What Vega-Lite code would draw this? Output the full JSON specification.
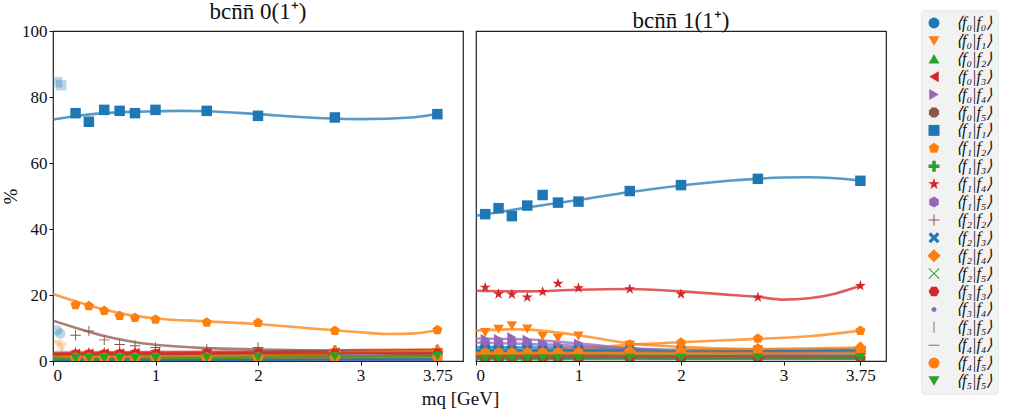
{
"$schema": "https://vega.github.io/schema/vega-lite/v6.json",
"background": "white",
"padding": {"left": 0, "top": 0, "right": 0, "bottom": 4},
"bounds": "flush",
"config": {
 "font": "Liberation Serif",
 "view": {"stroke": "#222", "strokeWidth": 1.2},
 "axis": {"domain": false, "grid": false, "labelFont": "Liberation Serif", "labelFontSize": 17, "labelColor": "#111", "tickColor": "#111", "tickSize": 4, "labelPadding": 2, "titleFont": "Liberation Serif", "titleFontSize": 19, "titleFontWeight": "normal", "titleColor": "#111"},
 "title": {"font": "Liberation Serif", "fontSize": 23, "fontWeight": "normal", "color": "#111", "offset": -2, "frame": "group"},
 "legend": {"orient": "none", "legendX": 868, "legendY": -21, "fillColor": "#f2f2f2", "strokeColor": "#e8e8e8", "cornerRadius": 4, "padding": 5, "titlePadding": 0, "labelFont": "Liberation Serif", "labelFontSize": 16, "labelColor": "#111", "labelFontStyle": "italic", "labelBaseline": "middle", "symbolSize": 120, "rowPadding": 1.9, "labelOffset": 14, "symbolStrokeWidth": 0, "symbolOpacity": 1},
 "concat": {"spacing": 13}
},
"datasets": {
 "pts": [
{"p":0,"s":"00","x":0.22,"y":1.2},{"p":0,"s":"00","x":0.35,"y":1.2},{"p":0,"s":"00","x":0.5,"y":1.3},{"p":0,"s":"00","x":0.65,"y":1.3},{"p":0,"s":"00","x":0.8,"y":1.4},{"p":0,"s":"00","x":1,"y":1.5},{"p":0,"s":"00","x":1.5,"y":1.7},{"p":0,"s":"00","x":2,"y":1.9},{"p":0,"s":"00","x":2.75,"y":2.2},{"p":0,"s":"00","x":3.75,"y":2.4},
{"p":0,"s":"01","x":0.22,"y":1.8},{"p":0,"s":"01","x":0.35,"y":1.8},{"p":0,"s":"01","x":0.5,"y":1.8},{"p":0,"s":"01","x":0.65,"y":1.8},{"p":0,"s":"01","x":0.8,"y":1.8},{"p":0,"s":"01","x":1,"y":1.8},{"p":0,"s":"01","x":1.5,"y":1.7},{"p":0,"s":"01","x":2,"y":1.6},{"p":0,"s":"01","x":2.75,"y":1.5},{"p":0,"s":"01","x":3.75,"y":1.3},
{"p":0,"s":"02","x":0.22,"y":0.6},{"p":0,"s":"02","x":0.35,"y":0.6},{"p":0,"s":"02","x":0.5,"y":0.7},{"p":0,"s":"02","x":0.65,"y":0.7},{"p":0,"s":"02","x":0.8,"y":0.8},{"p":0,"s":"02","x":1,"y":0.9},{"p":0,"s":"02","x":1.5,"y":1.2},{"p":0,"s":"02","x":2,"y":1.6},{"p":0,"s":"02","x":2.75,"y":2.5},{"p":0,"s":"02","x":3.75,"y":3.2},
{"p":0,"s":"03","x":0.22,"y":2.2},{"p":0,"s":"03","x":0.35,"y":2.2},{"p":0,"s":"03","x":0.5,"y":2.3},{"p":0,"s":"03","x":0.65,"y":2.3},{"p":0,"s":"03","x":0.8,"y":2.4},{"p":0,"s":"03","x":1,"y":2.4},{"p":0,"s":"03","x":1.5,"y":2.5},{"p":0,"s":"03","x":2,"y":2.5},{"p":0,"s":"03","x":2.75,"y":2.6},{"p":0,"s":"03","x":3.75,"y":2.5},
{"p":0,"s":"04","x":0.22,"y":0.5},{"p":0,"s":"04","x":0.35,"y":0.5},{"p":0,"s":"04","x":0.5,"y":0.5},{"p":0,"s":"04","x":0.65,"y":0.6},{"p":0,"s":"04","x":0.8,"y":0.6},{"p":0,"s":"04","x":1,"y":0.6},{"p":0,"s":"04","x":1.5,"y":0.7},{"p":0,"s":"04","x":2,"y":0.8},{"p":0,"s":"04","x":2.75,"y":0.9},{"p":0,"s":"04","x":3.75,"y":1.0},
{"p":0,"s":"05","x":0.22,"y":1.0},{"p":0,"s":"05","x":0.35,"y":1.0},{"p":0,"s":"05","x":0.5,"y":1.0},{"p":0,"s":"05","x":0.65,"y":1.1},{"p":0,"s":"05","x":0.8,"y":1.1},{"p":0,"s":"05","x":1,"y":1.1},{"p":0,"s":"05","x":1.5,"y":1.2},{"p":0,"s":"05","x":2,"y":1.3},{"p":0,"s":"05","x":2.75,"y":1.4},{"p":0,"s":"05","x":3.75,"y":1.5},
{"p":0,"s":"11","x":0.22,"y":75.1},{"p":0,"s":"11","x":0.35,"y":72.5},{"p":0,"s":"11","x":0.5,"y":76.1},{"p":0,"s":"11","x":0.65,"y":75.8},{"p":0,"s":"11","x":0.8,"y":75.1},{"p":0,"s":"11","x":1,"y":76.1},{"p":0,"s":"11","x":1.5,"y":75.8},{"p":0,"s":"11","x":2,"y":74.3},{"p":0,"s":"11","x":2.75,"y":73.8},{"p":0,"s":"11","x":3.75,"y":74.8},
{"p":0,"s":"12","x":0.22,"y":17.0},{"p":0,"s":"12","x":0.35,"y":16.7},{"p":0,"s":"12","x":0.5,"y":15.2},{"p":0,"s":"12","x":0.65,"y":13.7},{"p":0,"s":"12","x":0.8,"y":13.1},{"p":0,"s":"12","x":1,"y":12.6},{"p":0,"s":"12","x":1.5,"y":11.7},{"p":0,"s":"12","x":2,"y":11.6},{"p":0,"s":"12","x":2.75,"y":9.2},{"p":0,"s":"12","x":3.75,"y":9.4},
{"p":0,"s":"13","x":0.22,"y":1.5},{"p":0,"s":"13","x":0.35,"y":1.5},{"p":0,"s":"13","x":0.5,"y":1.6},{"p":0,"s":"13","x":0.65,"y":1.7},{"p":0,"s":"13","x":0.8,"y":1.8},{"p":0,"s":"13","x":1,"y":1.9},{"p":0,"s":"13","x":1.5,"y":2.2},{"p":0,"s":"13","x":2,"y":2.5},{"p":0,"s":"13","x":2.75,"y":3.0},{"p":0,"s":"13","x":3.75,"y":3.3},
{"p":0,"s":"14","x":0.22,"y":2.6},{"p":0,"s":"14","x":0.35,"y":2.6},{"p":0,"s":"14","x":0.5,"y":2.6},{"p":0,"s":"14","x":0.65,"y":2.7},{"p":0,"s":"14","x":0.8,"y":2.7},{"p":0,"s":"14","x":1,"y":2.7},{"p":0,"s":"14","x":1.5,"y":2.8},{"p":0,"s":"14","x":2,"y":2.9},{"p":0,"s":"14","x":2.75,"y":3.2},{"p":0,"s":"14","x":3.75,"y":3.4},
{"p":0,"s":"15","x":0.22,"y":0.8},{"p":0,"s":"15","x":0.35,"y":0.8},{"p":0,"s":"15","x":0.5,"y":0.8},{"p":0,"s":"15","x":0.65,"y":0.9},{"p":0,"s":"15","x":0.8,"y":0.9},{"p":0,"s":"15","x":1,"y":0.9},{"p":0,"s":"15","x":1.5,"y":1.0},{"p":0,"s":"15","x":2,"y":1.0},{"p":0,"s":"15","x":2.75,"y":1.1},{"p":0,"s":"15","x":3.75,"y":1.1},
{"p":0,"s":"22","x":0.22,"y":7.8},{"p":0,"s":"22","x":0.35,"y":9.1},{"p":0,"s":"22","x":0.5,"y":6.4},{"p":0,"s":"22","x":0.65,"y":5.0},{"p":0,"s":"22","x":0.8,"y":4.6},{"p":0,"s":"22","x":1,"y":4.1},{"p":0,"s":"22","x":1.5,"y":3.6},{"p":0,"s":"22","x":2,"y":4.1},{"p":0,"s":"22","x":2.75,"y":3.2},{"p":0,"s":"22","x":3.75,"y":2.0},
{"p":0,"s":"23","x":0.22,"y":0.4},{"p":0,"s":"23","x":0.35,"y":0.4},{"p":0,"s":"23","x":0.5,"y":0.4},{"p":0,"s":"23","x":0.65,"y":0.5},{"p":0,"s":"23","x":0.8,"y":0.5},{"p":0,"s":"23","x":1,"y":0.5},{"p":0,"s":"23","x":1.5,"y":0.6},{"p":0,"s":"23","x":2,"y":0.7},{"p":0,"s":"23","x":2.75,"y":0.9},{"p":0,"s":"23","x":3.75,"y":1.1},
{"p":0,"s":"24","x":0.22,"y":1.3},{"p":0,"s":"24","x":0.35,"y":1.3},{"p":0,"s":"24","x":0.5,"y":1.3},{"p":0,"s":"24","x":0.65,"y":1.4},{"p":0,"s":"24","x":0.8,"y":1.4},{"p":0,"s":"24","x":1,"y":1.4},{"p":0,"s":"24","x":1.5,"y":1.5},{"p":0,"s":"24","x":2,"y":1.6},{"p":0,"s":"24","x":2.75,"y":2.8},{"p":0,"s":"24","x":3.75,"y":3.0},
{"p":0,"s":"25","x":0.22,"y":0.3},{"p":0,"s":"25","x":0.35,"y":0.3},{"p":0,"s":"25","x":0.5,"y":0.3},{"p":0,"s":"25","x":0.65,"y":0.3},{"p":0,"s":"25","x":0.8,"y":0.3},{"p":0,"s":"25","x":1,"y":0.3},{"p":0,"s":"25","x":1.5,"y":0.4},{"p":0,"s":"25","x":2,"y":0.4},{"p":0,"s":"25","x":2.75,"y":0.5},{"p":0,"s":"25","x":3.75,"y":0.5},
{"p":0,"s":"33","x":0.22,"y":2.0},{"p":0,"s":"33","x":0.35,"y":2.0},{"p":0,"s":"33","x":0.5,"y":2.0},{"p":0,"s":"33","x":0.65,"y":2.1},{"p":0,"s":"33","x":0.8,"y":2.1},{"p":0,"s":"33","x":1,"y":2.1},{"p":0,"s":"33","x":1.5,"y":2.2},{"p":0,"s":"33","x":2,"y":2.3},{"p":0,"s":"33","x":2.75,"y":2.4},{"p":0,"s":"33","x":3.75,"y":2.4},
{"p":0,"s":"34","x":0.22,"y":0.2},{"p":0,"s":"34","x":0.35,"y":0.2},{"p":0,"s":"34","x":0.5,"y":0.2},{"p":0,"s":"34","x":0.65,"y":0.2},{"p":0,"s":"34","x":0.8,"y":0.2},{"p":0,"s":"34","x":1,"y":0.2},{"p":0,"s":"34","x":1.5,"y":0.3},{"p":0,"s":"34","x":2,"y":0.3},{"p":0,"s":"34","x":2.75,"y":0.3},{"p":0,"s":"34","x":3.75,"y":0.3},
{"p":0,"s":"35","x":0.22,"y":0.5},{"p":0,"s":"35","x":0.35,"y":0.5},{"p":0,"s":"35","x":0.5,"y":0.5},{"p":0,"s":"35","x":0.65,"y":0.5},{"p":0,"s":"35","x":0.8,"y":0.5},{"p":0,"s":"35","x":1,"y":0.5},{"p":0,"s":"35","x":1.5,"y":0.6},{"p":0,"s":"35","x":2,"y":0.6},{"p":0,"s":"35","x":2.75,"y":0.7},{"p":0,"s":"35","x":3.75,"y":0.7},
{"p":0,"s":"44","x":0.22,"y":0.3},{"p":0,"s":"44","x":0.35,"y":0.3},{"p":0,"s":"44","x":0.5,"y":0.3},{"p":0,"s":"44","x":0.65,"y":0.3},{"p":0,"s":"44","x":0.8,"y":0.4},{"p":0,"s":"44","x":1,"y":0.4},{"p":0,"s":"44","x":1.5,"y":0.4},{"p":0,"s":"44","x":2,"y":0.4},{"p":0,"s":"44","x":2.75,"y":0.5},{"p":0,"s":"44","x":3.75,"y":0.5},
{"p":0,"s":"45","x":0.22,"y":1.0},{"p":0,"s":"45","x":0.35,"y":1.0},{"p":0,"s":"45","x":0.5,"y":1.0},{"p":0,"s":"45","x":0.65,"y":1.0},{"p":0,"s":"45","x":0.8,"y":1.0},{"p":0,"s":"45","x":1,"y":1.0},{"p":0,"s":"45","x":1.5,"y":1.1},{"p":0,"s":"45","x":2,"y":1.1},{"p":0,"s":"45","x":2.75,"y":1.2},{"p":0,"s":"45","x":3.75,"y":1.2},
{"p":0,"s":"55","x":0.22,"y":0.8},{"p":0,"s":"55","x":0.35,"y":0.8},{"p":0,"s":"55","x":0.5,"y":0.8},{"p":0,"s":"55","x":0.65,"y":0.8},{"p":0,"s":"55","x":0.8,"y":0.8},{"p":0,"s":"55","x":1,"y":0.9},{"p":0,"s":"55","x":1.5,"y":1.0},{"p":0,"s":"55","x":2,"y":1.1},{"p":0,"s":"55","x":2.75,"y":1.3},{"p":0,"s":"55","x":3.75,"y":1.5},
{"p":1,"s":"00","x":0.09,"y":4.3},{"p":1,"s":"00","x":0.22,"y":4.3},{"p":1,"s":"00","x":0.35,"y":3.8},{"p":1,"s":"00","x":0.5,"y":4.8},{"p":1,"s":"00","x":0.65,"y":3.6},{"p":1,"s":"00","x":0.8,"y":3.8},{"p":1,"s":"00","x":1,"y":4.0},{"p":1,"s":"00","x":1.5,"y":3.5},{"p":1,"s":"00","x":2,"y":3.3},{"p":1,"s":"00","x":2.75,"y":3.4},{"p":1,"s":"00","x":3.75,"y":3.6},
{"p":1,"s":"01","x":0.09,"y":8.6},{"p":1,"s":"01","x":0.22,"y":9.6},{"p":1,"s":"01","x":0.35,"y":10.7},{"p":1,"s":"01","x":0.5,"y":9.7},{"p":1,"s":"01","x":0.65,"y":7.4},{"p":1,"s":"01","x":0.8,"y":6.9},{"p":1,"s":"01","x":1,"y":7.6},{"p":1,"s":"01","x":1.5,"y":4.8},{"p":1,"s":"01","x":2,"y":4.2},{"p":1,"s":"01","x":2.75,"y":3.4},{"p":1,"s":"01","x":3.75,"y":2.8},
{"p":1,"s":"02","x":0.09,"y":2.2},{"p":1,"s":"02","x":0.22,"y":2.2},{"p":1,"s":"02","x":0.35,"y":2.2},{"p":1,"s":"02","x":0.5,"y":2.2},{"p":1,"s":"02","x":0.65,"y":2.2},{"p":1,"s":"02","x":0.8,"y":2.2},{"p":1,"s":"02","x":1,"y":2.2},{"p":1,"s":"02","x":1.5,"y":2.1},{"p":1,"s":"02","x":2,"y":2.0},{"p":1,"s":"02","x":2.75,"y":1.9},{"p":1,"s":"02","x":3.75,"y":1.8},
{"p":1,"s":"03","x":0.09,"y":1.6},{"p":1,"s":"03","x":0.22,"y":1.6},{"p":1,"s":"03","x":0.35,"y":1.6},{"p":1,"s":"03","x":0.5,"y":1.6},{"p":1,"s":"03","x":0.65,"y":1.6},{"p":1,"s":"03","x":0.8,"y":1.6},{"p":1,"s":"03","x":1,"y":1.6},{"p":1,"s":"03","x":1.5,"y":1.5},{"p":1,"s":"03","x":2,"y":1.5},{"p":1,"s":"03","x":2.75,"y":1.4},{"p":1,"s":"03","x":3.75,"y":1.3},
{"p":1,"s":"04","x":0.09,"y":6.6},{"p":1,"s":"04","x":0.22,"y":6.6},{"p":1,"s":"04","x":0.35,"y":7.2},{"p":1,"s":"04","x":0.5,"y":6.4},{"p":1,"s":"04","x":0.65,"y":5.2},{"p":1,"s":"04","x":0.8,"y":4.5},{"p":1,"s":"04","x":1,"y":5.2},{"p":1,"s":"04","x":1.5,"y":3.6},{"p":1,"s":"04","x":2,"y":3.0},{"p":1,"s":"04","x":2.75,"y":2.2},{"p":1,"s":"04","x":3.75,"y":1.2},
{"p":1,"s":"05","x":0.09,"y":1.1},{"p":1,"s":"05","x":0.22,"y":1.1},{"p":1,"s":"05","x":0.35,"y":1.1},{"p":1,"s":"05","x":0.5,"y":1.1},{"p":1,"s":"05","x":0.65,"y":1.1},{"p":1,"s":"05","x":0.8,"y":1.1},{"p":1,"s":"05","x":1,"y":1.1},{"p":1,"s":"05","x":1.5,"y":1.1},{"p":1,"s":"05","x":2,"y":1.0},{"p":1,"s":"05","x":2.75,"y":1.0},{"p":1,"s":"05","x":3.75,"y":1.0},
{"p":1,"s":"11","x":0.09,"y":44.5},{"p":1,"s":"11","x":0.22,"y":46.3},{"p":1,"s":"11","x":0.35,"y":43.9},{"p":1,"s":"11","x":0.5,"y":47.1},{"p":1,"s":"11","x":0.65,"y":50.3},{"p":1,"s":"11","x":0.8,"y":48.0},{"p":1,"s":"11","x":1,"y":48.3},{"p":1,"s":"11","x":1.5,"y":51.5},{"p":1,"s":"11","x":2,"y":53.3},{"p":1,"s":"11","x":2.75,"y":55.2},{"p":1,"s":"11","x":3.75,"y":54.6},
{"p":1,"s":"12","x":0.09,"y":2.8},{"p":1,"s":"12","x":0.22,"y":2.8},{"p":1,"s":"12","x":0.35,"y":2.9},{"p":1,"s":"12","x":0.5,"y":3.0},{"p":1,"s":"12","x":0.65,"y":3.1},{"p":1,"s":"12","x":0.8,"y":3.3},{"p":1,"s":"12","x":1,"y":3.6},{"p":1,"s":"12","x":1.5,"y":5.0},{"p":1,"s":"12","x":2,"y":5.6},{"p":1,"s":"12","x":2.75,"y":6.8},{"p":1,"s":"12","x":3.75,"y":9.2},
{"p":1,"s":"13","x":0.09,"y":3.0},{"p":1,"s":"13","x":0.22,"y":3.0},{"p":1,"s":"13","x":0.35,"y":2.9},{"p":1,"s":"13","x":0.5,"y":3.0},{"p":1,"s":"13","x":0.65,"y":3.0},{"p":1,"s":"13","x":0.8,"y":3.0},{"p":1,"s":"13","x":1,"y":3.0},{"p":1,"s":"13","x":1.5,"y":2.9},{"p":1,"s":"13","x":2,"y":2.8},{"p":1,"s":"13","x":2.75,"y":2.6},{"p":1,"s":"13","x":3.75,"y":2.7},
{"p":1,"s":"14","x":0.09,"y":22.3},{"p":1,"s":"14","x":0.22,"y":20.3},{"p":1,"s":"14","x":0.35,"y":20.2},{"p":1,"s":"14","x":0.5,"y":19.3},{"p":1,"s":"14","x":0.65,"y":21.0},{"p":1,"s":"14","x":0.8,"y":23.5},{"p":1,"s":"14","x":1,"y":22.1},{"p":1,"s":"14","x":1.5,"y":21.8},{"p":1,"s":"14","x":2,"y":20.3},{"p":1,"s":"14","x":2.75,"y":19.3},{"p":1,"s":"14","x":3.75,"y":22.8},
{"p":1,"s":"15","x":0.09,"y":5.5},{"p":1,"s":"15","x":0.22,"y":5.6},{"p":1,"s":"15","x":0.35,"y":5.8},{"p":1,"s":"15","x":0.5,"y":5.5},{"p":1,"s":"15","x":0.65,"y":4.8},{"p":1,"s":"15","x":0.8,"y":4.2},{"p":1,"s":"15","x":1,"y":4.6},{"p":1,"s":"15","x":1.5,"y":3.4},{"p":1,"s":"15","x":2,"y":2.9},{"p":1,"s":"15","x":2.75,"y":2.3},{"p":1,"s":"15","x":3.75,"y":1.6},
{"p":1,"s":"22","x":0.09,"y":1.8},{"p":1,"s":"22","x":0.22,"y":1.8},{"p":1,"s":"22","x":0.35,"y":1.8},{"p":1,"s":"22","x":0.5,"y":1.7},{"p":1,"s":"22","x":0.65,"y":1.7},{"p":1,"s":"22","x":0.8,"y":1.6},{"p":1,"s":"22","x":1,"y":1.6},{"p":1,"s":"22","x":1.5,"y":1.4},{"p":1,"s":"22","x":2,"y":1.3},{"p":1,"s":"22","x":2.75,"y":1.1},{"p":1,"s":"22","x":3.75,"y":1.0},
{"p":1,"s":"23","x":0.09,"y":3.5},{"p":1,"s":"23","x":0.22,"y":3.4},{"p":1,"s":"23","x":0.35,"y":3.3},{"p":1,"s":"23","x":0.5,"y":3.4},{"p":1,"s":"23","x":0.65,"y":3.3},{"p":1,"s":"23","x":0.8,"y":3.3},{"p":1,"s":"23","x":1,"y":3.3},{"p":1,"s":"23","x":1.5,"y":3.2},{"p":1,"s":"23","x":2,"y":3.1},{"p":1,"s":"23","x":2.75,"y":3.0},{"p":1,"s":"23","x":3.75,"y":3.1},
{"p":1,"s":"24","x":0.09,"y":2.3},{"p":1,"s":"24","x":0.22,"y":2.3},{"p":1,"s":"24","x":0.35,"y":2.3},{"p":1,"s":"24","x":0.5,"y":2.4},{"p":1,"s":"24","x":0.65,"y":2.4},{"p":1,"s":"24","x":0.8,"y":2.5},{"p":1,"s":"24","x":1,"y":2.6},{"p":1,"s":"24","x":1.5,"y":3.0},{"p":1,"s":"24","x":2,"y":3.3},{"p":1,"s":"24","x":2.75,"y":3.6},{"p":1,"s":"24","x":3.75,"y":4.1},
{"p":1,"s":"25","x":0.09,"y":1.5},{"p":1,"s":"25","x":0.22,"y":1.5},{"p":1,"s":"25","x":0.35,"y":1.5},{"p":1,"s":"25","x":0.5,"y":1.5},{"p":1,"s":"25","x":0.65,"y":1.5},{"p":1,"s":"25","x":0.8,"y":1.5},{"p":1,"s":"25","x":1,"y":1.5},{"p":1,"s":"25","x":1.5,"y":1.4},{"p":1,"s":"25","x":2,"y":1.4},{"p":1,"s":"25","x":2.75,"y":1.3},{"p":1,"s":"25","x":3.75,"y":1.3},
{"p":1,"s":"33","x":0.09,"y":1.2},{"p":1,"s":"33","x":0.22,"y":1.2},{"p":1,"s":"33","x":0.35,"y":1.2},{"p":1,"s":"33","x":0.5,"y":1.2},{"p":1,"s":"33","x":0.65,"y":1.2},{"p":1,"s":"33","x":0.8,"y":1.2},{"p":1,"s":"33","x":1,"y":1.2},{"p":1,"s":"33","x":1.5,"y":1.2},{"p":1,"s":"33","x":2,"y":1.1},{"p":1,"s":"33","x":2.75,"y":1.1},{"p":1,"s":"33","x":3.75,"y":1.1},
{"p":1,"s":"34","x":0.09,"y":1.0},{"p":1,"s":"34","x":0.22,"y":1.0},{"p":1,"s":"34","x":0.35,"y":1.0},{"p":1,"s":"34","x":0.5,"y":1.0},{"p":1,"s":"34","x":0.65,"y":1.0},{"p":1,"s":"34","x":0.8,"y":1.0},{"p":1,"s":"34","x":1,"y":1.0},{"p":1,"s":"34","x":1.5,"y":0.9},{"p":1,"s":"34","x":2,"y":0.9},{"p":1,"s":"34","x":2.75,"y":0.9},{"p":1,"s":"34","x":3.75,"y":0.8},
{"p":1,"s":"35","x":0.09,"y":0.8},{"p":1,"s":"35","x":0.22,"y":0.8},{"p":1,"s":"35","x":0.35,"y":0.8},{"p":1,"s":"35","x":0.5,"y":0.8},{"p":1,"s":"35","x":0.65,"y":0.8},{"p":1,"s":"35","x":0.8,"y":0.8},{"p":1,"s":"35","x":1,"y":0.8},{"p":1,"s":"35","x":1.5,"y":0.8},{"p":1,"s":"35","x":2,"y":0.7},{"p":1,"s":"35","x":2.75,"y":0.7},{"p":1,"s":"35","x":3.75,"y":0.7},
{"p":1,"s":"44","x":0.09,"y":3.0},{"p":1,"s":"44","x":0.22,"y":3.0},{"p":1,"s":"44","x":0.35,"y":3.0},{"p":1,"s":"44","x":0.5,"y":3.0},{"p":1,"s":"44","x":0.65,"y":3.0},{"p":1,"s":"44","x":0.8,"y":3.0},{"p":1,"s":"44","x":1,"y":3.0},{"p":1,"s":"44","x":1.5,"y":2.9},{"p":1,"s":"44","x":2,"y":2.9},{"p":1,"s":"44","x":2.75,"y":2.8},{"p":1,"s":"44","x":3.75,"y":2.9},
{"p":1,"s":"45","x":0.09,"y":2.4},{"p":1,"s":"45","x":0.22,"y":2.4},{"p":1,"s":"45","x":0.35,"y":2.4},{"p":1,"s":"45","x":0.5,"y":2.4},{"p":1,"s":"45","x":0.65,"y":2.4},{"p":1,"s":"45","x":0.8,"y":2.4},{"p":1,"s":"45","x":1,"y":2.4},{"p":1,"s":"45","x":1.5,"y":2.4},{"p":1,"s":"45","x":2,"y":2.4},{"p":1,"s":"45","x":2.75,"y":2.4},{"p":1,"s":"45","x":3.75,"y":2.5},
{"p":1,"s":"55","x":0.09,"y":0.6},{"p":1,"s":"55","x":0.22,"y":0.6},{"p":1,"s":"55","x":0.35,"y":0.6},{"p":1,"s":"55","x":0.5,"y":0.7},{"p":1,"s":"55","x":0.65,"y":0.7},{"p":1,"s":"55","x":0.8,"y":0.7},{"p":1,"s":"55","x":1,"y":0.7},{"p":1,"s":"55","x":1.5,"y":0.8},{"p":1,"s":"55","x":2,"y":0.8},{"p":1,"s":"55","x":2.75,"y":0.9},{"p":1,"s":"55","x":3.75,"y":1.0}
 ],
 "faded": [
{"p":0,"s":"11","x":0.04,"y":84.5},{"p":0,"s":"11","x":0.08,"y":83.6},{"p":0,"s":"00","x":0.04,"y":9.3},{"p":0,"s":"00","x":0.07,"y":8.3},{"p":0,"s":"01","x":0.05,"y":5.0},{"p":0,"s":"01","x":0.09,"y":4.2},{"p":0,"s":"22","x":0.08,"y":3.3},{"p":0,"s":"02","x":0.05,"y":1.5}
 ],
 "fit": [
{"p":0,"s":"00","x":0,"y":1.1},{"p":0,"s":"00","x":1,"y":1.5},{"p":0,"s":"00","x":2,"y":1.9},{"p":0,"s":"00","x":3,"y":2.3},{"p":0,"s":"00","x":3.75,"y":2.4},
{"p":0,"s":"01","x":0,"y":1.9},{"p":0,"s":"01","x":1,"y":1.8},{"p":0,"s":"01","x":2,"y":1.6},{"p":0,"s":"01","x":3,"y":1.4},{"p":0,"s":"01","x":3.75,"y":1.3},
{"p":0,"s":"02","x":0,"y":0.5},{"p":0,"s":"02","x":1,"y":0.9},{"p":0,"s":"02","x":2,"y":1.6},{"p":0,"s":"02","x":3,"y":2.7},{"p":0,"s":"02","x":3.75,"y":3.2},
{"p":0,"s":"03","x":0,"y":2.2},{"p":0,"s":"03","x":1,"y":2.4},{"p":0,"s":"03","x":2,"y":2.5},{"p":0,"s":"03","x":3,"y":2.6},{"p":0,"s":"03","x":3.75,"y":2.5},
{"p":0,"s":"04","x":0,"y":0.5},{"p":0,"s":"04","x":1,"y":0.6},{"p":0,"s":"04","x":2,"y":0.8},{"p":0,"s":"04","x":3,"y":0.9},{"p":0,"s":"04","x":3.75,"y":1.0},
{"p":0,"s":"05","x":0,"y":1.0},{"p":0,"s":"05","x":1,"y":1.1},{"p":0,"s":"05","x":2,"y":1.3},{"p":0,"s":"05","x":3,"y":1.4},{"p":0,"s":"05","x":3.75,"y":1.5},
{"p":0,"s":"11","x":0,"y":73.2},{"p":0,"s":"11","x":0.25,"y":74.3},{"p":0,"s":"11","x":0.5,"y":75.1},{"p":0,"s":"11","x":0.75,"y":75.5},{"p":0,"s":"11","x":1,"y":75.7},{"p":0,"s":"11","x":1.25,"y":75.8},{"p":0,"s":"11","x":1.5,"y":75.7},{"p":0,"s":"11","x":2,"y":74.8},{"p":0,"s":"11","x":2.5,"y":73.8},{"p":0,"s":"11","x":3,"y":73.3},{"p":0,"s":"11","x":3.5,"y":73.8},{"p":0,"s":"11","x":3.75,"y":74.9},
{"p":0,"s":"12","x":0,"y":20.3},{"p":0,"s":"12","x":0.25,"y":17.8},{"p":0,"s":"12","x":0.5,"y":15.6},{"p":0,"s":"12","x":0.75,"y":13.9},{"p":0,"s":"12","x":1,"y":12.9},{"p":0,"s":"12","x":1.5,"y":12.0},{"p":0,"s":"12","x":2,"y":11.2},{"p":0,"s":"12","x":2.5,"y":9.9},{"p":0,"s":"12","x":2.75,"y":9.3},{"p":0,"s":"12","x":3,"y":8.7},{"p":0,"s":"12","x":3.25,"y":8.2},{"p":0,"s":"12","x":3.5,"y":8.3},{"p":0,"s":"12","x":3.75,"y":9.3},
{"p":0,"s":"13","x":0,"y":1.4},{"p":0,"s":"13","x":1,"y":1.9},{"p":0,"s":"13","x":2,"y":2.5},{"p":0,"s":"13","x":3,"y":3.1},{"p":0,"s":"13","x":3.75,"y":3.3},
{"p":0,"s":"14","x":0,"y":2.5},{"p":0,"s":"14","x":1,"y":2.7},{"p":0,"s":"14","x":2,"y":2.9},{"p":0,"s":"14","x":3,"y":3.3},{"p":0,"s":"14","x":3.75,"y":3.4},
{"p":0,"s":"15","x":0,"y":0.8},{"p":0,"s":"15","x":1,"y":0.9},{"p":0,"s":"15","x":2,"y":1.0},{"p":0,"s":"15","x":3,"y":1.1},{"p":0,"s":"15","x":3.75,"y":1.1},
{"p":0,"s":"22","x":0,"y":12.2},{"p":0,"s":"22","x":0.25,"y":9.8},{"p":0,"s":"22","x":0.5,"y":7.6},{"p":0,"s":"22","x":0.75,"y":6.0},{"p":0,"s":"22","x":1,"y":4.9},{"p":0,"s":"22","x":1.5,"y":3.9},{"p":0,"s":"22","x":2,"y":3.5},{"p":0,"s":"22","x":2.5,"y":3.2},{"p":0,"s":"22","x":3,"y":2.7},{"p":0,"s":"22","x":3.5,"y":2.0},{"p":0,"s":"22","x":3.75,"y":1.6},
{"p":0,"s":"23","x":0,"y":0.4},{"p":0,"s":"23","x":1,"y":0.5},{"p":0,"s":"23","x":2,"y":0.7},{"p":0,"s":"23","x":3,"y":1.0},{"p":0,"s":"23","x":3.75,"y":1.1},
{"p":0,"s":"24","x":0,"y":1.3},{"p":0,"s":"24","x":1,"y":1.4},{"p":0,"s":"24","x":2,"y":1.8},{"p":0,"s":"24","x":3,"y":2.7},{"p":0,"s":"24","x":3.75,"y":3.0},
{"p":0,"s":"25","x":0,"y":0.3},{"p":0,"s":"25","x":1,"y":0.3},{"p":0,"s":"25","x":2,"y":0.4},{"p":0,"s":"25","x":3,"y":0.5},{"p":0,"s":"25","x":3.75,"y":0.5},
{"p":0,"s":"33","x":0,"y":2.0},{"p":0,"s":"33","x":1,"y":2.1},{"p":0,"s":"33","x":2,"y":2.3},{"p":0,"s":"33","x":3,"y":2.4},{"p":0,"s":"33","x":3.75,"y":2.4},
{"p":0,"s":"34","x":0,"y":0.2},{"p":0,"s":"34","x":1,"y":0.2},{"p":0,"s":"34","x":2,"y":0.3},{"p":0,"s":"34","x":3,"y":0.3},{"p":0,"s":"34","x":3.75,"y":0.3},
{"p":0,"s":"35","x":0,"y":0.5},{"p":0,"s":"35","x":1,"y":0.5},{"p":0,"s":"35","x":2,"y":0.6},{"p":0,"s":"35","x":3,"y":0.7},{"p":0,"s":"35","x":3.75,"y":0.7},
{"p":0,"s":"44","x":0,"y":0.3},{"p":0,"s":"44","x":1,"y":0.4},{"p":0,"s":"44","x":2,"y":0.4},{"p":0,"s":"44","x":3,"y":0.5},{"p":0,"s":"44","x":3.75,"y":0.5},
{"p":0,"s":"45","x":0,"y":1.0},{"p":0,"s":"45","x":1,"y":1.0},{"p":0,"s":"45","x":2,"y":1.1},{"p":0,"s":"45","x":3,"y":1.2},{"p":0,"s":"45","x":3.75,"y":1.2},
{"p":0,"s":"55","x":0,"y":0.8},{"p":0,"s":"55","x":1,"y":0.9},{"p":0,"s":"55","x":2,"y":1.1},{"p":0,"s":"55","x":3,"y":1.4},{"p":0,"s":"55","x":3.75,"y":1.5},
{"p":1,"s":"00","x":0,"y":4.2},{"p":1,"s":"00","x":1,"y":4.0},{"p":1,"s":"00","x":2,"y":3.4},{"p":1,"s":"00","x":3,"y":3.4},{"p":1,"s":"00","x":3.75,"y":3.6},
{"p":1,"s":"01","x":0,"y":9.2},{"p":1,"s":"01","x":0.35,"y":9.6},{"p":1,"s":"01","x":0.5,"y":9.5},{"p":1,"s":"01","x":1,"y":7.8},{"p":1,"s":"01","x":1.5,"y":5.3},{"p":1,"s":"01","x":2,"y":4.3},{"p":1,"s":"01","x":2.75,"y":3.5},{"p":1,"s":"01","x":3.75,"y":2.9},
{"p":1,"s":"02","x":0,"y":2.2},{"p":1,"s":"02","x":1,"y":2.2},{"p":1,"s":"02","x":2,"y":2.0},{"p":1,"s":"02","x":3,"y":1.9},{"p":1,"s":"02","x":3.75,"y":1.8},
{"p":1,"s":"03","x":0,"y":1.6},{"p":1,"s":"03","x":1,"y":1.6},{"p":1,"s":"03","x":2,"y":1.5},{"p":1,"s":"03","x":3,"y":1.4},{"p":1,"s":"03","x":3.75,"y":1.3},
{"p":1,"s":"04","x":0,"y":6.8},{"p":1,"s":"04","x":0.5,"y":6.5},{"p":1,"s":"04","x":1,"y":5.3},{"p":1,"s":"04","x":1.5,"y":3.9},{"p":1,"s":"04","x":2,"y":3.1},{"p":1,"s":"04","x":2.75,"y":2.2},{"p":1,"s":"04","x":3.75,"y":1.2},
{"p":1,"s":"05","x":0,"y":1.1},{"p":1,"s":"05","x":1,"y":1.1},{"p":1,"s":"05","x":2,"y":1.0},{"p":1,"s":"05","x":3,"y":1.0},{"p":1,"s":"05","x":3.75,"y":1.0},
{"p":1,"s":"11","x":0,"y":44.0},{"p":1,"s":"11","x":0.5,"y":46.5},{"p":1,"s":"11","x":1,"y":48.8},{"p":1,"s":"11","x":1.5,"y":51.2},{"p":1,"s":"11","x":2,"y":53.2},{"p":1,"s":"11","x":2.5,"y":54.7},{"p":1,"s":"11","x":3,"y":55.6},{"p":1,"s":"11","x":3.25,"y":55.7},{"p":1,"s":"11","x":3.5,"y":55.4},{"p":1,"s":"11","x":3.75,"y":54.7},
{"p":1,"s":"12","x":0,"y":2.8},{"p":1,"s":"12","x":0.5,"y":3.0},{"p":1,"s":"12","x":1,"y":3.8},{"p":1,"s":"12","x":1.5,"y":4.9},{"p":1,"s":"12","x":2,"y":5.7},{"p":1,"s":"12","x":2.75,"y":6.7},{"p":1,"s":"12","x":3.25,"y":7.5},{"p":1,"s":"12","x":3.75,"y":9.2},
{"p":1,"s":"13","x":0,"y":3.0},{"p":1,"s":"13","x":1,"y":3.0},{"p":1,"s":"13","x":2,"y":2.8},{"p":1,"s":"13","x":3,"y":2.6},{"p":1,"s":"13","x":3.75,"y":2.7},
{"p":1,"s":"14","x":0,"y":21.3},{"p":1,"s":"14","x":0.5,"y":21.1},{"p":1,"s":"14","x":1,"y":21.6},{"p":1,"s":"14","x":1.5,"y":21.8},{"p":1,"s":"14","x":2,"y":21.1},{"p":1,"s":"14","x":2.5,"y":20.0},{"p":1,"s":"14","x":2.75,"y":19.4},{"p":1,"s":"14","x":3,"y":18.6},{"p":1,"s":"14","x":3.25,"y":19.0},{"p":1,"s":"14","x":3.5,"y":20.4},{"p":1,"s":"14","x":3.75,"y":22.8},
{"p":1,"s":"15","x":0,"y":5.6},{"p":1,"s":"15","x":1,"y":4.6},{"p":1,"s":"15","x":2,"y":2.9},{"p":1,"s":"15","x":3,"y":2.1},{"p":1,"s":"15","x":3.75,"y":1.6},
{"p":1,"s":"22","x":0,"y":1.8},{"p":1,"s":"22","x":1,"y":1.6},{"p":1,"s":"22","x":2,"y":1.3},{"p":1,"s":"22","x":3,"y":1.1},{"p":1,"s":"22","x":3.75,"y":1.0},
{"p":1,"s":"23","x":0,"y":3.5},{"p":1,"s":"23","x":1,"y":3.3},{"p":1,"s":"23","x":2,"y":3.1},{"p":1,"s":"23","x":3,"y":3.0},{"p":1,"s":"23","x":3.75,"y":3.1},
{"p":1,"s":"24","x":0,"y":2.3},{"p":1,"s":"24","x":1,"y":2.6},{"p":1,"s":"24","x":2,"y":3.3},{"p":1,"s":"24","x":3,"y":3.7},{"p":1,"s":"24","x":3.75,"y":4.1},
{"p":1,"s":"25","x":0,"y":1.5},{"p":1,"s":"25","x":1,"y":1.5},{"p":1,"s":"25","x":2,"y":1.4},{"p":1,"s":"25","x":3,"y":1.3},{"p":1,"s":"25","x":3.75,"y":1.3},
{"p":1,"s":"33","x":0,"y":1.2},{"p":1,"s":"33","x":1,"y":1.2},{"p":1,"s":"33","x":2,"y":1.1},{"p":1,"s":"33","x":3,"y":1.1},{"p":1,"s":"33","x":3.75,"y":1.1},
{"p":1,"s":"34","x":0,"y":1.0},{"p":1,"s":"34","x":1,"y":1.0},{"p":1,"s":"34","x":2,"y":0.9},{"p":1,"s":"34","x":3,"y":0.9},{"p":1,"s":"34","x":3.75,"y":0.8},
{"p":1,"s":"35","x":0,"y":0.8},{"p":1,"s":"35","x":1,"y":0.8},{"p":1,"s":"35","x":2,"y":0.7},{"p":1,"s":"35","x":3,"y":0.7},{"p":1,"s":"35","x":3.75,"y":0.7},
{"p":1,"s":"44","x":0,"y":3.0},{"p":1,"s":"44","x":1,"y":3.0},{"p":1,"s":"44","x":2,"y":2.9},{"p":1,"s":"44","x":3,"y":2.8},{"p":1,"s":"44","x":3.75,"y":2.9},
{"p":1,"s":"45","x":0,"y":2.4},{"p":1,"s":"45","x":1,"y":2.4},{"p":1,"s":"45","x":2,"y":2.4},{"p":1,"s":"45","x":3,"y":2.4},{"p":1,"s":"45","x":3.75,"y":2.5},
{"p":1,"s":"55","x":0,"y":0.6},{"p":1,"s":"55","x":1,"y":0.7},{"p":1,"s":"55","x":2,"y":0.8},{"p":1,"s":"55","x":3,"y":0.9},{"p":1,"s":"55","x":3.75,"y":1.0}
 ]
},
"hconcat": [
 {
  "title": "bcn̄n̄ 0(1⁺)",
  "width": 410, "height": 330,
  "layer": [
   {"data": {"name": "fit"}, "transform": [{"filter": "datum.p == 0"}],
    "mark": {"type": "line", "interpolate": "monotone", "strokeWidth": 2.6, "opacity": 0.75, "clip": true},
    "encoding": {
     "x": {"field": "x", "type": "quantitative", "scale": {"domain": [0, 4]}, "axis": {"values": [0, 1, 2, 3, 3.75], "format": ".3~g", "title": "mq [GeV]", "titleX": 407, "titlePadding": 6}},
     "y": {"field": "y", "type": "quantitative", "scale": {"domain": [0, 100]}, "axis": {"values": [0, 20, 40, 60, 80, 100], "title": "%", "titlePadding": 1}},
     "stroke": {"field": "s", "type": "nominal", "legend": null,
      "scale": {"domain": ["55","45","44","35","34","33","25","24","23","22","15","14","13","12","11","05","04","03","02","01","00"],
       "range": ["#2ca02c","#ff7f0e","#1f77b4","#8c564b","#9467bd","#d62728","#2ca02c","#ff7f0e","#1f77b4","#8c564b","#9467bd","#d62728","#2ca02c","#ff7f0e","#1f77b4","#8c564b","#9467bd","#d62728","#2ca02c","#ff7f0e","#1f77b4"]}},
     "detail": {"field": "s"}}},
   {"data": {"name": "faded"},
    "mark": {"type": "point", "filled": true, "size": 110, "opacity": 0.3, "clip": true},
    "encoding": {
     "x": {"field": "x", "type": "quantitative"},
     "y": {"field": "y", "type": "quantitative"},
     "color": {"field": "s", "type": "nominal", "legend": {"title": null}},
     "shape": {"field": "s", "type": "nominal", "legend": {"title": null}}}},
   {"data": {"name": "pts"}, "transform": [{"filter": "datum.p == 0"}],
    "mark": {"type": "point", "filled": true, "size": 110, "opacity": 1, "clip": true},
    "encoding": {
     "x": {"field": "x", "type": "quantitative"},
     "y": {"field": "y", "type": "quantitative"},
     "color": {"field": "s", "type": "nominal",
      "scale": {"domain": ["00","01","02","03","04","05","11","12","13","14","15","22","23","24","25","33","34","35","44","45","55"],
       "range": ["#1f77b4","#ff7f0e","#2ca02c","#d62728","#9467bd","#8c564b","#1f77b4","#ff7f0e","#2ca02c","#d62728","#9467bd","#8c564b","#1f77b4","#ff7f0e","#2ca02c","#d62728","#9467bd","#8c564b","#1f77b4","#ff7f0e","#2ca02c"]},
      "legend": {"title": null, "labelExpr": "'⟨f' + ['₀','₁','₂','₃','₄','₅'][toNumber(substring(datum.label,0,1))] + '|f' + ['₀','₁','₂','₃','₄','₅'][toNumber(substring(datum.label,1,2))] + '⟩'"}},
     "shape": {"field": "s", "type": "nominal",
      "scale": {"domain": ["00","01","02","03","04","05","11","12","13","14","15","22","23","24","25","33","34","35","44","45","55"],
       "range": ["circle","triangle-down","triangle-up","triangle-left","triangle-right",
        "M0.383,-0.924L0.924,-0.383L0.924,0.383L0.383,0.924L-0.383,0.924L-0.924,0.383L-0.924,-0.383L-0.383,-0.924Z",
        "square",
        "M0,-1L0.951,-0.309L0.588,0.809L-0.588,0.809L-0.951,-0.309Z",
        "M-0.33,-1H0.33V-0.33H1V0.33H0.33V1H-0.33V0.33H-1V-0.33H-0.33Z",
        "M0,-1.1L0.247,-0.34L1.046,-0.34L0.4,0.13L0.647,0.89L0,0.42L-0.647,0.89L-0.4,0.13L-1.046,-0.34L-0.247,-0.34Z",
        "M0,-1L0.866,-0.5L0.866,0.5L0,1L-0.866,0.5L-0.866,-0.5Z",
        "M-1,-0.09H-0.09V-1H0.09V-0.09H1V0.09H0.09V1H-0.09V0.09H-1Z",
        "M-1,-0.58L-0.58,-1L0,-0.42L0.58,-1L1,-0.58L0.42,0L1,0.58L0.58,1L0,0.42L-0.58,1L-1,0.58L-0.42,0Z",
        "M-1.2,0L0,-1.2L1.2,0L0,1.2Z",
        "M-1,-0.87L-0.87,-1L0,-0.13L0.87,-1L1,-0.87L0.13,0L1,0.87L0.87,1L0,0.13L-0.87,1L-1,0.87L-0.13,0Z",
        "M1,0L0.5,0.866L-0.5,0.866L-1,0L-0.5,-0.866L0.5,-0.866Z",
        "M-0.45,0A0.45,0.45,0,1,0,0.45,0A0.45,0.45,0,1,0,-0.45,0Z",
        "M-0.08,-1H0.08V1H-0.08Z",
        "M-1,-0.08H1V0.08H-1Z",
        "circle","triangle-down"]},
      "legend": {"title": null, "labelExpr": "'⟨f' + ['₀','₁','₂','₃','₄','₅'][toNumber(substring(datum.label,0,1))] + '|f' + ['₀','₁','₂','₃','₄','₅'][toNumber(substring(datum.label,1,2))] + '⟩'"}}}}
  ]
 },
 {
  "title": "bcn̄n̄ 1(1⁺)",
  "width": 410, "height": 330,
  "layer": [
   {"data": {"name": "fit"}, "transform": [{"filter": "datum.p == 1"}],
    "mark": {"type": "line", "interpolate": "monotone", "strokeWidth": 2.6, "opacity": 0.75, "clip": true},
    "encoding": {
     "x": {"field": "x", "type": "quantitative", "scale": {"domain": [0, 4]}, "axis": {"values": [0, 1, 2, 3, 3.75], "format": ".3~g", "title": null}},
     "y": {"field": "y", "type": "quantitative", "scale": {"domain": [0, 100]}, "axis": {"labels": false, "ticks": false, "title": null}},
     "stroke": {"field": "s", "type": "nominal", "legend": null},
     "detail": {"field": "s"}}},
   {"data": {"name": "pts"}, "transform": [{"filter": "datum.p == 1"}],
    "mark": {"type": "point", "filled": true, "size": 110, "opacity": 1, "clip": true},
    "encoding": {
     "x": {"field": "x", "type": "quantitative"},
     "y": {"field": "y", "type": "quantitative"},
     "color": {"field": "s", "type": "nominal", "legend": {"title": null}},
     "shape": {"field": "s", "type": "nominal", "legend": {"title": null}}}}
  ]
 }
],
"resolve": {"scale": {"color": "shared", "shape": "shared", "stroke": "shared"}}
}
